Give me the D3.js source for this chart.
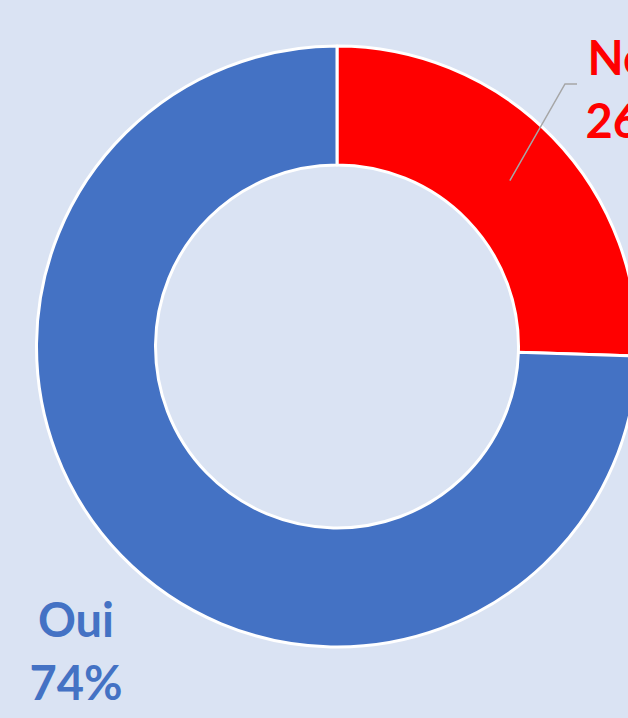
<!DOCTYPE html>
<html>
<head>
<meta charset="utf-8">
<script src="https://cdn.jsdelivr.net/npm/d3@7"></script>
<style>
  html, body { margin: 0; padding: 0; background: #dae3f3; overflow: hidden; }
  svg { display: block; }
  .label { font-family: Lato, "Open Sans", sans-serif; font-weight: 700; font-size: 47px; }
</style>
</head>
<body>
<script>
var width = 628;
var height = 718;

var categories = ["Non", "Oui"];
var values = [25.5, 74.5];
var percentLabels = ["26%", "74%"];
var colors = ["#ff0000", "#4472c4"];

// label positions (centre of the two-line label)
var labelPos = [[632, 75], [76, 637]];

var cx = 337, cy = 346.5;
var outerR = 300.5, innerR = 181.5;

var svg = d3.select("body")
    .append("svg")
    .attr("width", width)
    .attr("height", height);

svg.append("rect")
    .attr("width", width)
    .attr("height", height)
    .attr("fill", "#dae3f3");

var data = categories.map(function (c, i) {
    return {name: c, value: values[i], pct: percentLabels[i], color: colors[i], pos: labelPos[i]};
});

var pie = d3.pie()
    .sort(null)
    .value(function (d) { return d.value; });

var arc = d3.arc()
    .innerRadius(innerR)
    .outerRadius(outerR);

var g = svg.append("g")
    .attr("transform", "translate(" + cx + "," + cy + ")");

var arcs = pie(data);

g.selectAll("path")
    .data(arcs)
    .enter()
    .append("path")
    .attr("d", arc)
    .attr("fill", function (d) { return d.data.color; })
    .attr("stroke", "#ffffff")
    .attr("stroke-width", 3)
    .attr("stroke-linejoin", "round");

// leader line for the "Non" label
var leaderArc = d3.arc().innerRadius(outerR * 0.75).outerRadius(outerR * 0.75);
var start = leaderArc.centroid(arcs[0]);
svg.append("polyline")
    .attr("points", [
        [cx + start[0] + 11, cy + start[1] - 9],
        [565, 84],
        [577, 84]
    ].map(function (p) { return p.join(","); }).join(" "))
    .attr("fill", "none")
    .attr("stroke", "#a6a6a6")
    .attr("stroke-width", 1.5);

var labels = svg.selectAll("text.label")
    .data(data)
    .enter()
    .append("text")
    .attr("class", "label")
    .attr("text-anchor", "middle")
    .attr("fill", function (d) { return d.color; });

labels.append("tspan")
    .attr("x", function (d) { return d.pos[0]; })
    .attr("y", function (d) { return d.pos[1]; })
    .text(function (d) { return d.name; });

labels.append("tspan")
    .attr("x", function (d) { return d.pos[0]; })
    .attr("y", function (d) { return d.pos[1] + 63; })
    .text(function (d) { return d.pct; });
</script>
</body>
</html>
